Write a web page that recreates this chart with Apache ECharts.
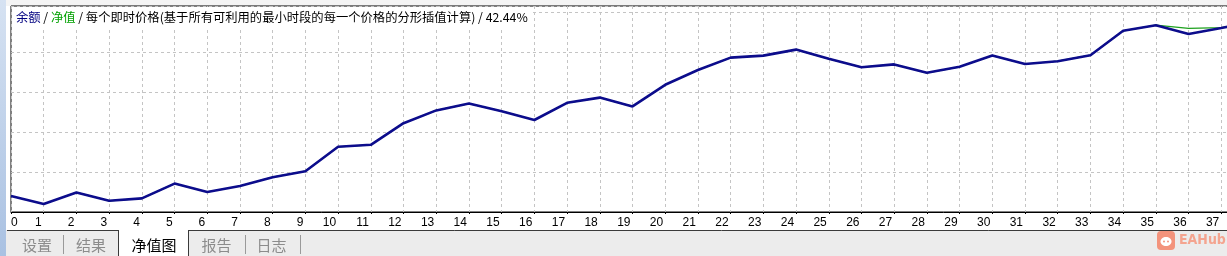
<!DOCTYPE html>
<html>
<head>
<meta charset="utf-8">
<script src="https://cdn.jsdelivr.net/npm/echarts@6/dist/echarts.min.js"></script>
<style>
html,body{margin:0;padding:0;background:#fff;overflow:hidden;}
#c{width:1255px;height:256px;}
</style>
</head>
<body>
<div id="c"></div>
<script>
// x-axis categories (trade index); 38 is the partly visible next point at the right edge
var categories = ['0','1','2','3','4','5','6','7','8','9','10','11','12','13','14','15','16','17','18','19','20','21','22','23','24','25','26','27','28','29','30','31','32','33','34','35','36','37','38'];
// balance (blue) – relative units
var balance = [40,20,49,28,34,71,50,65,87,102,163,168,222,254,271,252,230,273,286,264,318,355,386,391,406,383,362,369,348,363,391,370,377,392,453,467,445,460,476];
// equity (green) – equals balance except where it differs near the end
var equity  = [40,20,49,28,34,71,50,65,87,102,163,168,222,254,271,252,230,273,286,264,318,355,386,391,406,383,362,369,348,363,391,370,377,392,453,467,459,461,476];
var titleText = '{b|余额} / {g|净值} / 每个即时价格(基于所有可利用的最小时段的每一个价格的分形插值计算) / 42.44%';
var tabs = ['设置','结果','净值图','报告','日志'];
var watermark = 'EAHub';

var cjk = '"Noto Sans CJK SC", "Noto Sans", sans-serif';
var chart = echarts.init(document.getElementById('c'), null, {renderer:'canvas'});

var tabCenters = [37, 91, 154, 216.5, 271.5];
var graphics = [
  {type:'rect', shape:{x:0,y:0,width:1255,height:6}, style:{fill:'#F4F4F4'}, z:-10, silent:true},
  {type:'rect', shape:{x:0,y:0,width:6,height:256},
   style:{fill:new echarts.graphic.LinearGradient(0,0,0,1,[{offset:0,color:'#D6E2F2'},{offset:1,color:'#A9C1E2'}])}, z:-10, silent:true},
  {type:'rect', shape:{x:6,y:230,width:1249,height:26}, style:{fill:'#ECECEC'}, z:-5, silent:true},
  {type:'line', shape:{x1:7,y1:230.5,x2:118,y2:230.5}, style:{stroke:'#3a3a3a',lineWidth:1}, silent:true},
  {type:'line', shape:{x1:188,y1:230.5,x2:1255,y2:230.5}, style:{stroke:'#3a3a3a',lineWidth:1}, silent:true},
  {type:'rect', shape:{x:118,y:230,width:70,height:26}, style:{fill:'#ffffff'}, z:-4, silent:true},
  {type:'line', shape:{x1:118.5,y1:230,x2:118.5,y2:256}, style:{stroke:'#3a3a3a',lineWidth:1}, silent:true},
  {type:'line', shape:{x1:188.5,y1:230,x2:188.5,y2:256}, style:{stroke:'#3a3a3a',lineWidth:1}, silent:true},
  {type:'line', shape:{x1:63.5,y1:235,x2:63.5,y2:254}, style:{stroke:'#9a9a9a',lineWidth:1}, silent:true},
  {type:'line', shape:{x1:245.5,y1:235,x2:245.5,y2:254}, style:{stroke:'#9a9a9a',lineWidth:1}, silent:true},
  {type:'line', shape:{x1:300.5,y1:235,x2:300.5,y2:254}, style:{stroke:'#9a9a9a',lineWidth:1}, silent:true},
  {type:'rect', shape:{x:1157,y:231,width:18,height:19,r:4}, style:{fill:'#F3937C'}, silent:true},
  {type:'ellipse', shape:{cx:1166,cy:241.5,rx:5.5,ry:4.5}, style:{fill:'#ffffff'}, silent:true},
  {type:'circle', shape:{cx:1164,cy:241.5,r:1}, style:{fill:'#F3937C'}, silent:true},
  {type:'circle', shape:{cx:1168,cy:241.5,r:1}, style:{fill:'#F3937C'}, silent:true},
  {type:'text', x:1179, y:240.5, style:{text:watermark, fill:'#F4A48F', font:'bold 14px "Liberation Sans Narrow", "DejaVu Sans Condensed", sans-serif', textVerticalAlign:'middle'}, silent:true}
];
tabs.forEach(function(t,i){
  graphics.push({type:'text', x:tabCenters[i], y:245, style:{text:t, fill:(i===2?'#000':'#8c8c8c'),
    font:'15px '+cjk, textAlign:'center', textVerticalAlign:'middle'}, silent:true});
});

chart.setOption({
  animation:false,
  backgroundColor:'#ffffff',
  title:{
    text:titleText, left:12, top:7, padding:[3,4,3,4], backgroundColor:'#ffffff',
    textStyle:{fontFamily:cjk, fontSize:12.3, fontWeight:'normal', color:'#000', lineHeight:14,
      rich:{
        b:{color:'#000080', fontFamily:cjk, fontSize:12.3, lineHeight:14},
        g:{color:'#00A000', fontFamily:cjk, fontSize:12.3, lineHeight:14}
      }}
  },
  grid:{left:11, top:6, right:1, height:206, show:true, borderColor:'#000', borderWidth:1, backgroundColor:'#fff', containLabel:false},
  xAxis:{
    type:'category', data:categories, boundaryGap:false,
    axisLine:{show:true, lineStyle:{color:'#000', width:1}},
    axisTick:{show:true, length:2, lineStyle:{color:'#000'}},
    axisLabel:{show:true, interval:0, color:'#000', fontSize:12, fontFamily:'"Liberation Sans", Arial, sans-serif',
      margin:5, align:'right', padding:[0,2,0,0], alignMinLabel:'left'},
    splitLine:{show:true, lineStyle:{color:'#C4C4C4', type:[3,3], width:1}}
  },
  yAxis:{
    type:'value', min:0, max:515, interval:100,
    axisLine:{show:false}, axisTick:{show:false}, axisLabel:{show:false},
    splitLine:{show:true, lineStyle:{color:'#C4C4C4', type:[3,3], width:1}}
  },
  series:[
    {type:'line', name:'净值', data:equity, symbol:'none', lineStyle:{color:'#1DA01D', width:1.2}, z:2},
    {type:'line', name:'余额', data:balance, symbol:'none', lineStyle:{color:'#0C0C8C', width:2.6}, z:3}
  ],
  graphic:graphics
});
</script>
</body>
</html>
